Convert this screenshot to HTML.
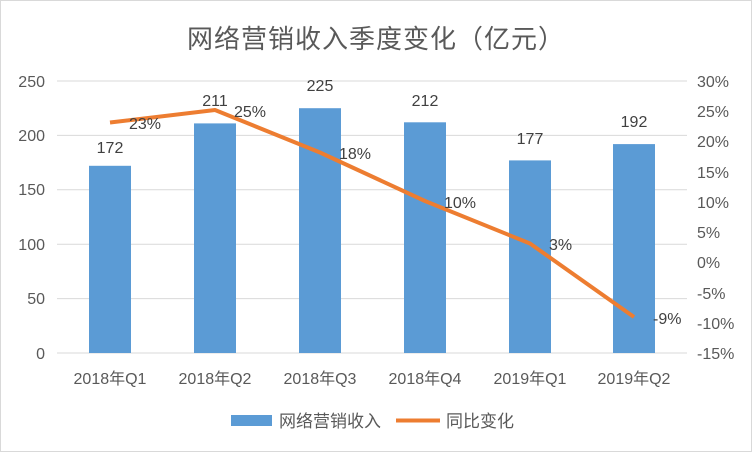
<!DOCTYPE html><html><head><meta charset="utf-8"><style>body{margin:0;background:#fff}svg{display:block}text{font-family:"Liberation Sans","Noto Sans CJK SC",sans-serif}</style></head><body>
<svg width="752" height="452" xmlns="http://www.w3.org/2000/svg">
<rect x="0.5" y="0.5" width="751" height="451" fill="#fff" stroke="#d9d9d9"/>
<text x="376" y="48" text-anchor="middle" font-size="26" fill="#595959" letter-spacing="1">网络营销收入季度变化（亿元）</text>
<g stroke="#d9d9d9" stroke-width="1">
<line x1="57" x2="687" y1="81" y2="81"/><line x1="57" x2="687" y1="135.4" y2="135.4"/><line x1="57" x2="687" y1="189.8" y2="189.8"/><line x1="57" x2="687" y1="244.2" y2="244.2"/><line x1="57" x2="687" y1="298.6" y2="298.6"/><line x1="57" x2="687" y1="353" y2="353"/></g>
<g font-size="16" fill="#595959" text-anchor="end">
<text x="45" y="87">250</text><text x="45" y="141">200</text><text x="45" y="195">150</text><text x="45" y="250">100</text><text x="45" y="304">50</text><text x="45" y="359">0</text></g>
<g font-size="16" fill="#595959">
<text x="697" y="87">30%</text><text x="697" y="117">25%</text><text x="697" y="147">20%</text><text x="697" y="178">15%</text><text x="697" y="208">10%</text><text x="697" y="238">5%</text><text x="697" y="268">0%</text><text x="697" y="299">-5%</text><text x="697" y="329">-10%</text><text x="697" y="359">-15%</text></g>
<g fill="#5b9bd5">
<rect x="89" y="165.8" width="42" height="187.2"/><rect x="194" y="123.4" width="42" height="229.6"/><rect x="299" y="108.2" width="42" height="244.8"/><rect x="404" y="122.3" width="42" height="230.7"/><rect x="509" y="160.4" width="42" height="192.6"/><rect x="613" y="144.1" width="42" height="208.9"/></g>
<polyline points="110,122.5 215,110 320,152.5 425,201 530,243.5 634,317" fill="none" stroke="#ed7d31" stroke-width="4" stroke-linejoin="round"/>
<g font-size="16" fill="#404040" text-anchor="middle">
<text x="110" y="153">172</text><text x="215" y="106">211</text><text x="320" y="91">225</text><text x="425" y="106">212</text><text x="530" y="144">177</text><text x="634" y="127">192</text></g>
<g font-size="16" fill="#404040">
<text x="129" y="129">23%</text><text x="234" y="117">25%</text><text x="339" y="159">18%</text><text x="444" y="208">10%</text><text x="549" y="250">3%</text><text x="653" y="324">-9%</text></g>
<g font-size="16" fill="#595959" text-anchor="middle">
<text x="110" y="384">2018年Q1</text><text x="215" y="384">2018年Q2</text><text x="320" y="384">2018年Q3</text><text x="425" y="384">2018年Q4</text><text x="530" y="384">2019年Q1</text><text x="634" y="384">2019年Q2</text></g>
<rect x="231" y="415" width="41" height="11" fill="#5b9bd5"/>
<text x="279" y="427" font-size="17" fill="#595959">网络营销收入</text>
<line x1="396" x2="440" y1="420.5" y2="420.5" stroke="#ed7d31" stroke-width="4"/>
<text x="446" y="427" font-size="17" fill="#595959">同比变化</text>
</svg></body></html>
